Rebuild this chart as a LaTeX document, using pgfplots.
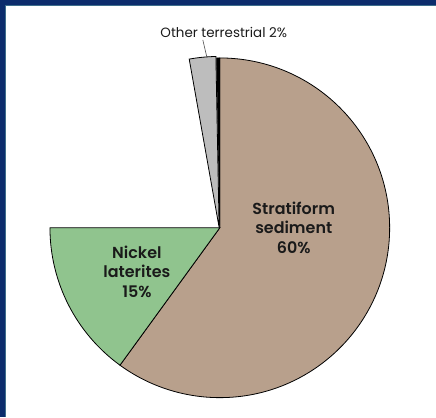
\documentclass[border=0pt]{standalone}
\usepackage{pgfplots}
\pgfplotsset{compat=1.18}
\usepackage{fontspec}
\setmainfont{Poppins}
\newfontfamily\semib{Poppins SemiBold}
\definecolor{navy}{HTML}{0C2C6C}
\definecolor{navyline}{HTML}{3D6E8C}
\definecolor{sedim}{HTML}{B8A08C}
\definecolor{nickel}{HTML}{90C48E}
\definecolor{other}{HTML}{BDBDBD}
\definecolor{txt}{HTML}{1A1A1A}
\begin{document}
\begin{tikzpicture}
\begin{axis}[
  x=1bp, y=1bp,
  xmin=0, xmax=436, ymin=0, ymax=417,
  hide axis,
  clip=false,
]
% frame
\fill[navy] (axis cs:0,0) rectangle (axis cs:6,417);
\fill[navy] (axis cs:0,412) rectangle (axis cs:436,417);
\draw[navyline, line width=0.8bp] (axis cs:5.6,0) -- (axis cs:5.6,411.6) -- (axis cs:436,411.6);
% pie: shares (percent) 60, 15, 22.2 (hidden), 2.5, 0.3 ; clockwise from 90 deg
% Stratiform sediment 60
\filldraw[fill=sedim, draw=black, line width=0.8bp] (axis cs:220,189) -- ++(90:170bp) arc[start angle=90, end angle={90-3.6*60}, radius=170bp] -- cycle;
% Nickel laterites 15
\filldraw[fill=nickel, draw=black, line width=0.8bp] (axis cs:220,189) -- ++({90-3.6*60}:170bp) arc[start angle={90-3.6*60}, end angle={90-3.6*75}, radius=170bp] -- cycle;
% Other terrestrial 2.5 (slightly pulled out)
\filldraw[fill=other, draw=black, line width=0.8bp] (axis cs:219.3,189.5) -- ++({90-3.6*97.2}:171bp) arc[start angle={90-3.6*97.2}, end angle={90-3.6*99.7}, radius=171bp] -- cycle;
% thin sliver 0.3
\filldraw[fill=black, draw=black, line width=0.6bp] (axis cs:220,189) -- ++({90-3.6*99.7}:170bp) arc[start angle={90-3.6*99.7}, end angle={90-3.6*100}, radius=170bp] -- cycle;
% labels
\draw[black!70, line width=0.6bp] (axis cs:207,360) -- (axis cs:203,377);
\node[txt, font=\fontsize{13.5}{15}\selectfont] at (axis cs:224,385) {Other terrestrial 2\%};
\node[txt, font=\fontsize{16}{19.5}\selectfont\semib, align=center] at (axis cs:294,189) {Stratiform\\sediment\\60\%};
\node[txt, font=\fontsize{16}{19.5}\selectfont\semib, align=center] at (axis cs:137,145) {Nickel\\laterites\\15\%};
\end{axis}
\end{tikzpicture}
\end{document}
